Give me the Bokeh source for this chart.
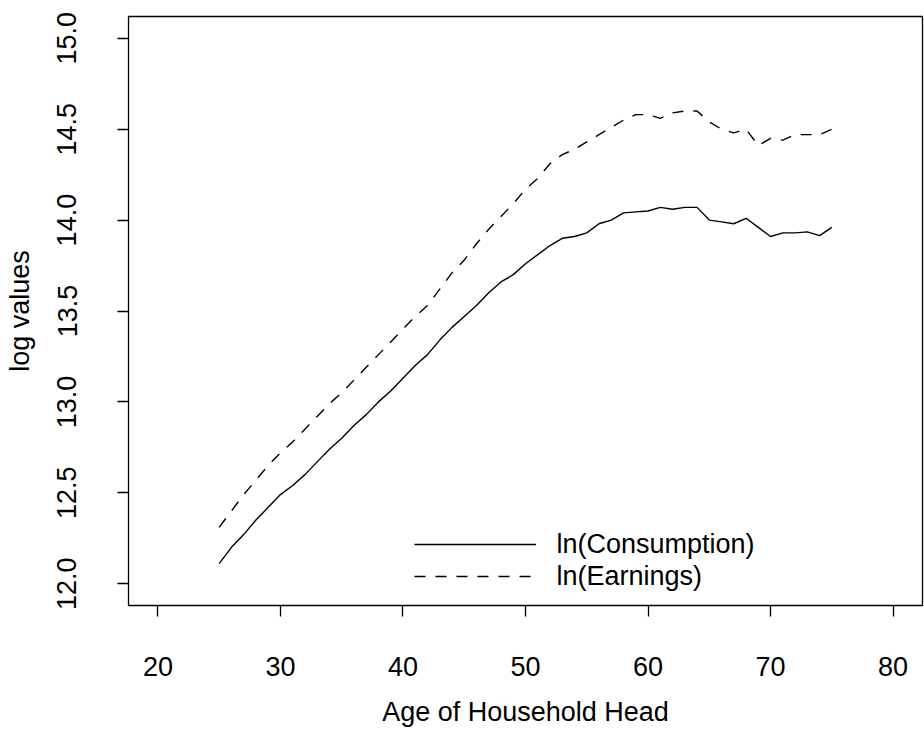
from bokeh.plotting import figure
from bokeh.models import Range1d, FixedTicker, NumeralTickFormatter, Legend, LegendItem
from bokeh.embed import file_html
from bokeh.resources import INLINE

ages = [25, 26, 27, 28, 29, 30, 31, 32, 33, 34, 35, 36, 37, 38, 39, 40,
        41, 42, 43, 44, 45, 46, 47, 48, 49, 50, 51, 52, 53, 54, 55, 56,
        57, 58, 59, 60, 61, 62, 63, 64, 65, 66, 67, 68, 69, 70, 71, 72,
        73, 74, 75]

ln_consumption = [12.11, 12.20, 12.27, 12.35, 12.42, 12.49, 12.54, 12.60,
                  12.67, 12.74, 12.80, 12.87, 12.93, 13.00, 13.06, 13.13,
                  13.20, 13.26, 13.34, 13.41, 13.47, 13.53, 13.60, 13.66,
                  13.70, 13.76, 13.81, 13.86, 13.90, 13.91, 13.93, 13.98,
                  14.00, 14.04, 14.045, 14.05, 14.07, 14.06, 14.07, 14.07,
                  14.00, 13.99, 13.98, 14.01, 13.96, 13.91, 13.93, 13.93,
                  13.935, 13.915, 13.96]

ln_earnings = [12.31, 12.40, 12.49, 12.57, 12.65, 12.72, 12.78, 12.85,
               12.92, 12.99, 13.05, 13.12, 13.19, 13.26, 13.33, 13.40,
               13.47, 13.53, 13.62, 13.71, 13.78, 13.87, 13.95, 14.02,
               14.09, 14.17, 14.23, 14.31, 14.36, 14.39, 14.43, 14.47,
               14.51, 14.55, 14.58, 14.58, 14.56, 14.59, 14.60, 14.60,
               14.54, 14.50, 14.48, 14.50, 14.41, 14.45, 14.44, 14.47,
               14.47, 14.47, 14.50]

x_ticks = [20, 30, 40, 50, 60, 70, 80]
y_ticks = [12.0, 12.5, 13.0, 13.5, 14.0, 14.5, 15.0]

FONT = "Liberation Sans"
FS = "27px"

p = figure(width=924, height=729, output_backend="svg", toolbar_location=None,
           x_range=Range1d(17.6, 82.4), y_range=Range1d(11.88, 15.12),
           min_border_left=128, min_border_right=2, min_border_top=16,
           min_border_bottom=124,
           x_axis_label="Age of Household Head", y_axis_label="log values")

p.background_fill_color = "white"
p.border_fill_color = "white"
p.outline_line_color = "black"
p.outline_line_width = 1.3
p.grid.visible = False

for ax in (p.xaxis[0], p.yaxis[0]):
    ax.axis_line_color = None
    ax.major_tick_in = 0
    ax.major_tick_out = 11
    ax.major_tick_line_color = "black"
    ax.major_tick_line_width = 1.3
    ax.minor_tick_line_color = None
    ax.major_label_text_font = FONT
    ax.major_label_text_font_size = FS
    ax.major_label_text_color = "black"
    ax.axis_label_text_font = FONT
    ax.axis_label_text_font_size = FS
    ax.axis_label_text_font_style = "normal"
    ax.axis_label_text_color = "black"

p.xaxis.ticker = FixedTicker(ticks=x_ticks)
p.yaxis.ticker = FixedTicker(ticks=y_ticks)
p.xaxis.formatter = NumeralTickFormatter(format="0")
p.yaxis.formatter = NumeralTickFormatter(format="0.0")
p.yaxis.major_label_orientation = "vertical"

p.xaxis.major_label_standoff = 40
p.xaxis.axis_label_standoff = 18
p.yaxis.major_label_standoff = 41
p.yaxis.axis_label_standoff = 20

r_c = p.line(ages, ln_consumption, line_color="black", line_width=1.4)
r_e = p.line(ages, ln_earnings, line_color="black", line_width=1.4,
             line_dash="11 10")

legend = Legend(items=[LegendItem(label="ln(Consumption)", renderers=[r_c]),
                       LegendItem(label="ln(Earnings)", renderers=[r_e])],
                location=(285.5, 13))
legend.border_line_color = None
legend.background_fill_alpha = 0
legend.padding = 0
legend.margin = 0
legend.spacing = 0
legend.glyph_width = 122
legend.glyph_height = 32
legend.label_height = 32
legend.label_standoff = 21
legend.label_text_font = FONT
legend.label_text_font_size = FS
legend.label_text_color = "black"
p.add_layout(legend, "center")

open("out.html", "w").write(file_html(p, INLINE))
